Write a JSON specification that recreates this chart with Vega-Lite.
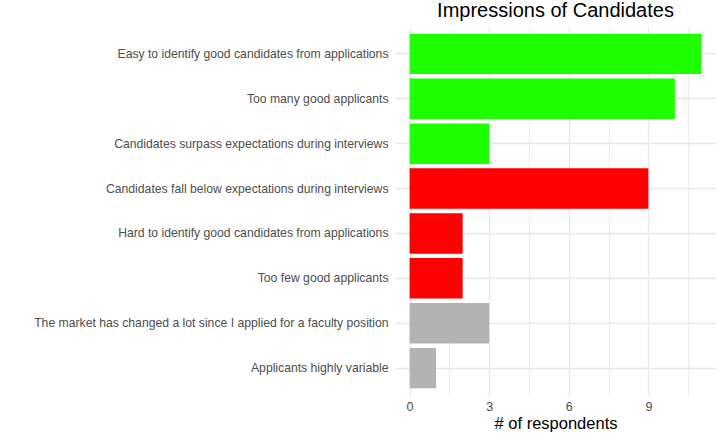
{
  "$schema": "https://vega.github.io/schema/vega-lite/v6.json",
  "autosize": "none",
  "width": 321,
  "height": 368,
  "padding": {"left": 395, "top": 27, "right": 0, "bottom": 41},
  "background": "white",
  "config": {
    "font": "Liberation Sans",
    "view": {"stroke": null}
  },
  "title": {
    "text": "Impressions of Candidates",
    "fontSize": 20,
    "fontWeight": "normal",
    "color": "#000000",
    "anchor": "middle",
    "frame": "group",
    "offset": 6
  },
  "data": {
    "values": [
      {"item": "Easy to identify good candidates from applications", "n": 11, "group": "positive"},
      {"item": "Too many good applicants", "n": 10, "group": "positive"},
      {"item": "Candidates surpass expectations during interviews", "n": 3, "group": "positive"},
      {"item": "Candidates fall below expectations during interviews", "n": 9, "group": "negative"},
      {"item": "Hard to identify good candidates from applications", "n": 2, "group": "negative"},
      {"item": "Too few good applicants", "n": 2, "group": "negative"},
      {"item": "The market has changed a lot since I applied for a faculty position", "n": 3, "group": "neutral"},
      {"item": "Applicants highly variable", "n": 1, "group": "neutral"}
    ]
  },
  "mark": {"type": "bar"},
  "encoding": {
    "y": {
      "field": "item",
      "type": "nominal",
      "sort": null,
      "scale": {"paddingInner": 0.1, "paddingOuter": 0.15},
      "axis": {
        "title": null,
        "domain": false,
        "ticks": false,
        "labelPadding": 7,
        "labelFontSize": 12.2,
        "labelColor": "#4D4D4D",
        "labelLimit": 500,
        "grid": true,
        "gridColor": "#E8E8E8",
        "gridWidth": 1.3,
        "bandPosition": 0.5
      }
    },
    "x": {
      "field": "n",
      "type": "quantitative",
      "scale": {"domain": [-0.55, 11.55], "nice": false, "zero": false},
      "axis": {
        "title": "# of respondents",
        "titleFontSize": 16.5,
        "titleFontWeight": "normal",
        "titleColor": "#000000",
        "titlePadding": 3,
        "values": [0, 1.5, 3, 4.5, 6, 7.5, 9, 10.5],
        "labelExpr": "datum.value % 3 === 0 ? datum.label : ''",
        "domain": false,
        "ticks": false,
        "labelPadding": 5,
        "labelFontSize": 12.5,
        "labelColor": "#4D4D4D",
        "grid": true,
        "gridColor": "#E8E8E8",
        "gridWidth": {"condition": {"test": "datum.value % 3 === 0", "value": 1.3}, "value": 0.8}
      }
    },
    "color": {
      "field": "group",
      "type": "nominal",
      "scale": {"domain": ["positive", "negative", "neutral"], "range": ["#1EFF00", "#FF0000", "#B3B3B3"]},
      "legend": null
    }
  }
}
